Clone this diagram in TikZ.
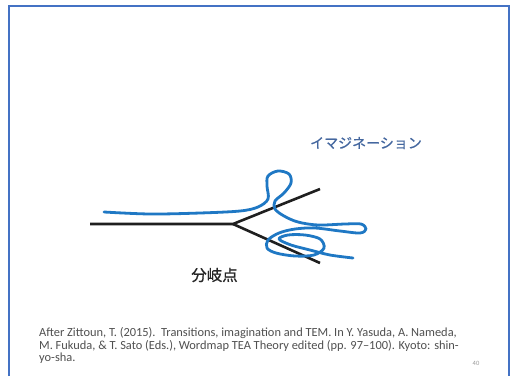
\documentclass[tikz,border=0pt]{standalone}
\usepackage{fontspec}
\setmainfont{Carlito}
\newfontfamily\jpfont[FakeBold=0.8]{Noto Sans CJK JP}
\definecolor{framec}{HTML}{4472C4}
\definecolor{curvec}{HTML}{1F78C4}
\definecolor{labelc}{HTML}{44679F}
\definecolor{citec}{HTML}{505050}
\begin{document}
\begin{tikzpicture}[x=1pt,y=-1pt,
  branchline/.style={line width=2.6pt,black!88},
  imagline/.style={line width=2.8pt,curvec,line cap=round,line join=round},
  citeline/.style={anchor=west,inner sep=0pt,font=\fontsize{12.4}{13}\selectfont,text=citec},
  jplabel/.style={inner sep=0pt,font=\jpfont}]
\useasboundingbox (0,0) rectangle (511,376);
\fill[white] (0,0) rectangle (511,376);
\draw[framec,line width=2.2pt] (9,376) -- (9,6) -- (509,6) -- (509,376);
% branching lines
\coordinate (start) at (90,224);
\coordinate (bp) at (233,224);
\coordinate (up) at (320,189);
\coordinate (low) at (320,263);
\draw[branchline] (start) -- (bp) -- (up);
\draw[branchline] (bp) -- (low);
% imagination curve
\draw[imagline] plot[smooth,tension=0.55] coordinates {
(104,212) (150,214) (200,213) (240,211) (258,207) (268,199) (267,186) (268,176)
(278,171) (289,174) (291,183) (284,193) (275,201) (275,209) (284,216) (298,222)
(318,225) (345,224) (361,224) (366,229) (360,233) (340,231) (315,228) (295,229)
(279,233) (268,240) (267,248) (276,253) (295,256) (314,255) (324,248) (320,239)
(305,235) (288,235) (279,239) (291,245) (310,250) (330,255) (353,258)};
% labels
\node[jplabel,text=labelc,font=\jpfont\fontsize{14}{16}\selectfont] (imag) at (366,143) {イマジネーション};
\node[jplabel,text=black!85,font=\jpfont\fontsize{15.5}{17}\selectfont] (bunki) at (214.5,275) {分岐点};
% citation
\node[citeline] (c1) at (39,333.5) {After Zittoun, T. (2015).\ \ Transitions, imagination and TEM. In Y. Yasuda, A. Nameda,};
\node[citeline] (c2) at (39,346) {M. Fukuda, \& T. Sato (Eds.), Wordmap TEA Theory edited (pp. 97–100). Kyoto: shin-};
\node[citeline] (c3) at (39,358.5) {yo-sha.};
\node[inner sep=0pt,font=\fontsize{6.5}{7}\selectfont,text=black!40] (pg) at (476,363) {40};
\end{tikzpicture}
\end{document}
